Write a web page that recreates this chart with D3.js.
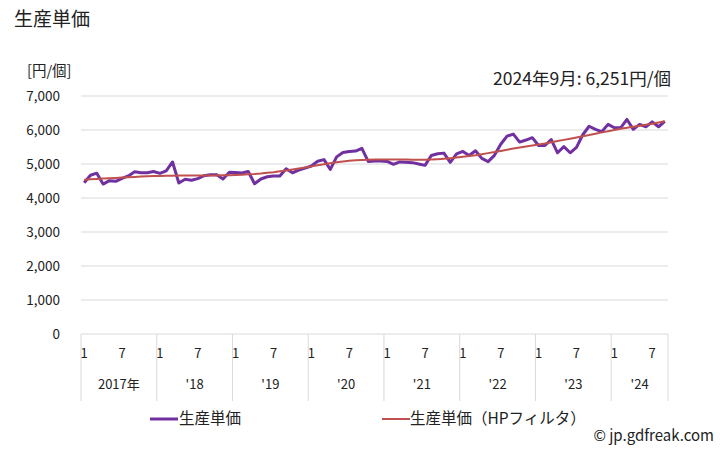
<!DOCTYPE html>
<html><head><meta charset="utf-8">
<script src="https://cdn.jsdelivr.net/npm/d3@7"></script>
<style>body{margin:0;background:#fff}svg{display:block;font-family:"Noto Sans CJK JP","Noto Sans",sans-serif}</style>
</head><body>
<script>
const years = ["2017年","'18","'19","'20","'21","'22","'23","'24"];
const monthsPerYear = [12,12,12,12,12,12,12,9];
const monthTicks = ["1","7"];
const yTicks = [0,1000,2000,3000,4000,5000,6000,7000];
const price = [
4450,4670,4730,4410,4510,4490,4580,4650,4770,4745,4745,4780,
4725,4800,5060,4440,4550,4520,4570,4655,4685,4685,4560,4755,
4750,4735,4780,4420,4560,4625,4645,4645,4860,4740,4820,4880,
4940,5080,5130,4840,5210,5340,5370,5380,5460,5075,5085,5085,
5075,4990,5060,5055,5040,5000,4960,5250,5300,5320,5050,5300,
5370,5250,5390,5165,5070,5255,5580,5820,5880,5645,5705,5775,
5545,5545,5720,5330,5510,5330,5490,5860,6110,6020,5950,6165,
6065,6065,6310,6020,6165,6095,6240,6095,6251];
const hp = [
4540,4550,4560,4570,4580,4590,4600,4610,4620,4630,4638,4645,
4650,4655,4658,4660,4660,4660,4660,4660,4662,4665,4668,4672,
4678,4685,4695,4705,4720,4740,4760,4785,4810,4840,4870,4900,
4930,4960,4990,5020,5050,5075,5095,5110,5120,5128,5132,5135,
5136,5135,5133,5130,5128,5127,5128,5132,5140,5152,5168,5188,
5210,5235,5260,5290,5320,5350,5385,5420,5455,5485,5515,5545,
5575,5605,5640,5675,5710,5745,5780,5815,5850,5890,5930,5965,
6000,6035,6065,6095,6125,6155,6185,6220,6255];
const seriesNames = ["生産単価","生産単価（HPフィルタ）"];
const colors = ["#7030A0","#C0504D"];

const W=728,H=450;
const svg=d3.select("body").append("svg").attr("width",W).attr("height",H);
const L=81,R=668,T=96,B=334;
const n=price.length;
const x=d3.scaleBand().domain(d3.range(n)).range([L,R]);
const y=d3.scaleLinear().domain([0,7000]).range([B,T]);
const cx=i=>x(i)+x.bandwidth()/2;

svg.append("text").attr("x",14).attr("y",26).attr("font-size",19).attr("fill","#222").text("生産単価");
svg.append("text").attr("x",27).attr("y",76).attr("font-size",14.5).attr("fill","#222").text("[円/個]");
svg.append("text").attr("x",671).attr("y",85).attr("text-anchor","end").attr("font-size",17.5).attr("fill","#222").text("2024年9月: 6,251円/個");

// gridlines
svg.append("g").selectAll("line").data(yTicks).join("line")
 .attr("x1",L).attr("x2",R).attr("y1",d=>y(d)).attr("y2",d=>y(d))
 .attr("stroke","#d9d9d9").attr("stroke-width",1);
svg.append("g").selectAll("text").data(yTicks).join("text")
 .attr("x",60).attr("y",d=>y(d)+5).attr("text-anchor","end").attr("font-size",13.5).attr("fill","#222")
 .text(d=>d3.format(",")(d));

// x axis structure
let starts=[];let acc=0;monthsPerYear.forEach(m=>{starts.push(acc);acc+=m;});
const sepIdx=starts.concat([n]);
svg.append("g").selectAll("line").data(sepIdx).join("line")
 .attr("x1",d=>d<n?x(d):R).attr("x2",d=>d<n?x(d):R).attr("y1",B).attr("y2",401)
 .attr("stroke","#d9d9d9");
const mt=[];starts.forEach((s,k)=>{monthTicks.forEach(t=>{const idx=s+(+t-1);if(+t<=monthsPerYear[k])mt.push({i:idx,t});});});
svg.append("g").selectAll("text").data(mt).join("text")
 .attr("x",d=>cx(d.i)).attr("y",358).attr("text-anchor","middle").attr("font-size",13).attr("fill","#222").text(d=>d.t);
svg.append("g").selectAll("text").data(years).join("text")
 .attr("x",(d,k)=>{const a=x(starts[k]);const b=k+1<starts.length?x(starts[k+1]):R;return (a+b)/2;})
 .attr("y",389).attr("text-anchor","middle").attr("font-size",13).attr("fill","#222").text(d=>d);

const line=d3.line().x((d,i)=>cx(i)).y(d=>y(d));
svg.append("path").datum(price).attr("d",line).attr("fill","none").attr("stroke",colors[0]).attr("stroke-width",3).attr("stroke-linejoin","round");
svg.append("path").datum(hp).attr("d",line).attr("fill","none").attr("stroke",colors[1]).attr("stroke-width",2);

// legend
const lg=[{x:150,tx:179},{x:382,tx:410}];
lg.forEach((p,k)=>{
 svg.append("line").attr("x1",p.x).attr("x2",p.x+28).attr("y1",419).attr("y2",419).attr("stroke",colors[k]).attr("stroke-width",k==0?3:2);
 svg.append("text").attr("x",p.tx).attr("y",424).attr("font-size",15.5).attr("fill","#222").text(seriesNames[k]);
});
svg.append("text").attr("x",714).attr("y",441).attr("text-anchor","end").attr("font-size",15).attr("fill","#222").text("© jp.gdfreak.com");
</script>
</body></html>
